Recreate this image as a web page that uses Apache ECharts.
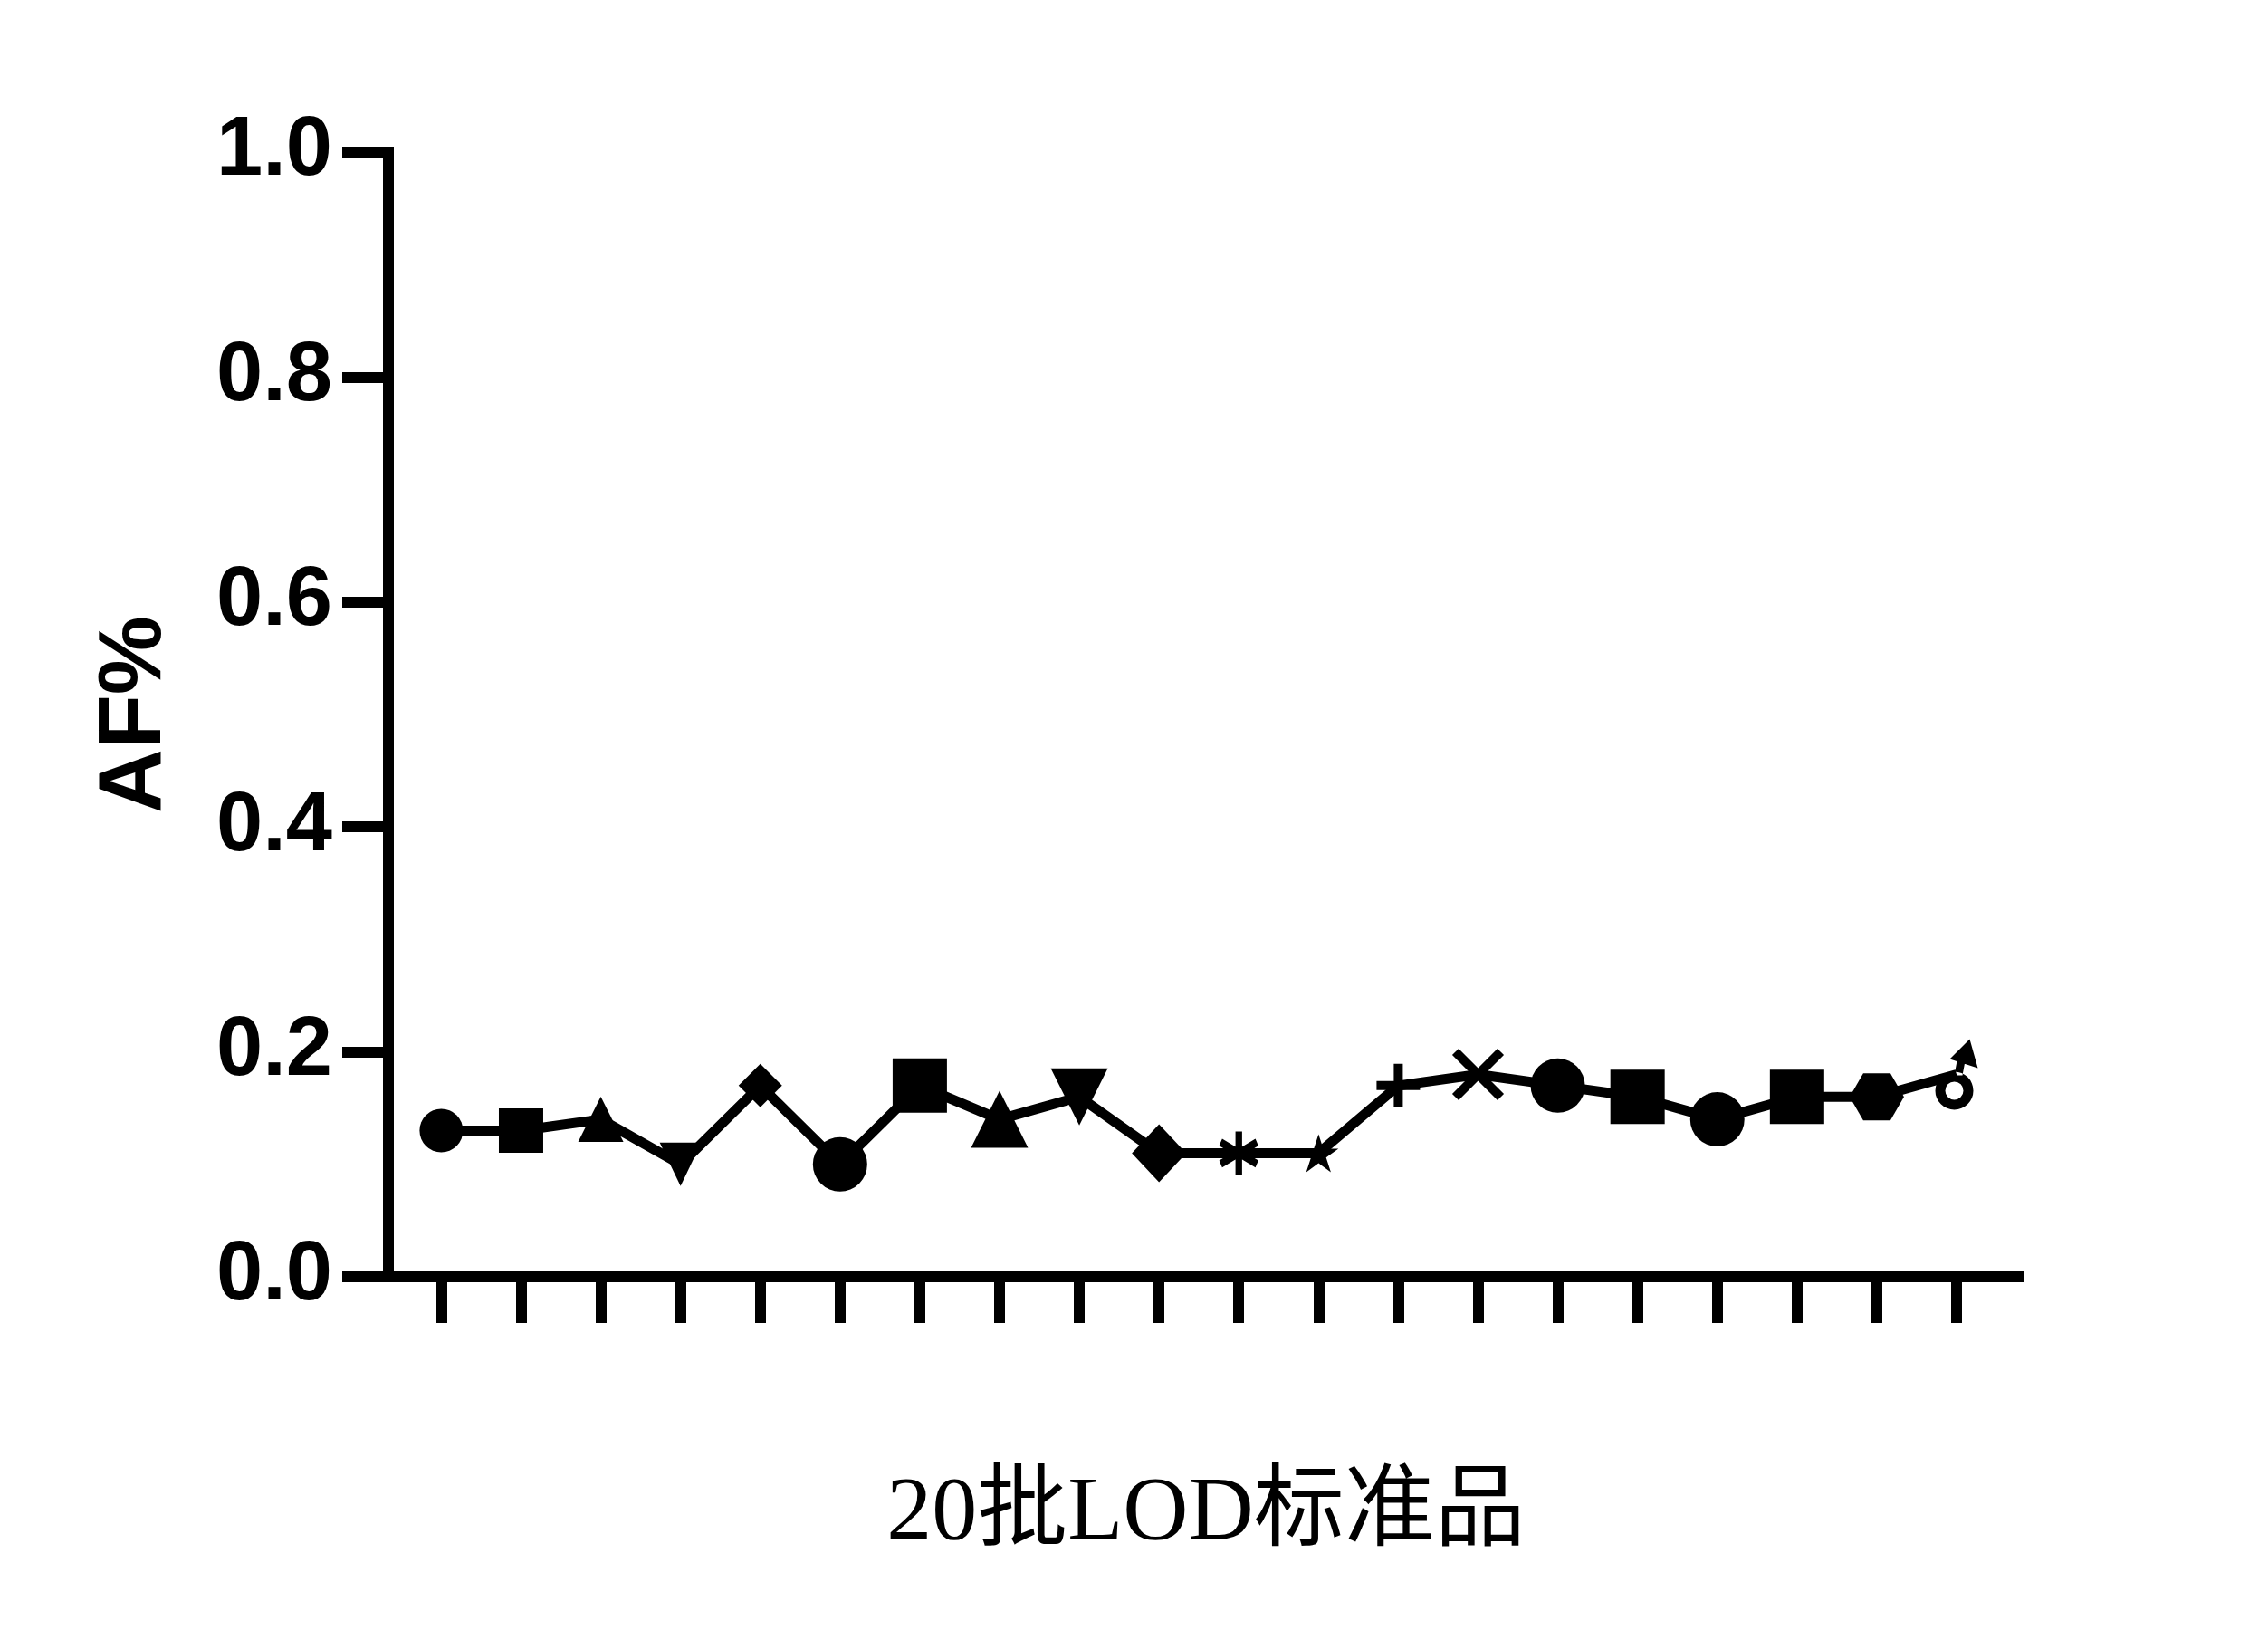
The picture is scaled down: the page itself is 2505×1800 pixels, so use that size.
<!DOCTYPE html>
<html>
<head>
<meta charset="utf-8">
<script src="https://cdn.jsdelivr.net/npm/echarts@6/dist/echarts.min.js"></script>
<style>html,body{margin:0;padding:0;background:#fff;}#c{width:2505px;height:1800px;}</style>
</head>
<body>
<div id="c"></div>
<script>
// ---- data ----
const batches = [1,2,3,4,5,6,7,8,9,10,11,12,13,14,15,16,17,18,19,20];
const afValues = [0.13,0.13,0.14,0.10,0.17,0.10,0.17,0.14,0.16,0.11,0.11,0.11,0.17,0.18,0.17,0.16,0.14,0.16,0.16,0.18];
const yTicks = [0,0.2,0.4,0.6,0.8,1.0];
const xName = '20批LOD标准品';
const yName = 'AF%';

// ---- marker styles (shape per batch) ----
const DOWN_TRI = 'path://M0,0 L2,0 L1,2 Z';
const ASTER = 'path://M0.5,0 L0.5,1 M0,0.25 L1,0.75 M0,0.75 L1,0.25';
const STAR = 'path://M50,0 L61.17,34.63 L97.55,34.55 L68.07,55.87 L79.39,90.45 L50,69 L20.61,90.45 L31.93,55.87 L2.45,34.55 L38.83,34.63 Z';
const PLUS = 'path://M0,1 L2,1 M1,0 L1,2';
const CROSS = 'path://M0,0 L2,2 M0,2 L2,0';
const HEX = 'path://M1,0 L3,0 L4,2 L3,4 L1,4 L0,2 Z';
const MALE = 'path://M0,57 A21,21 0 1,1 42,57 A21,21 0 1,1 0,57 Z M11,57 A10,10 0 1,0 31,57 A10,10 0 1,0 11,57 Z M21,40 L30,40 L33,24 L24,24 Z M38,0 L16,22 L47,32 Z';
const markerStyles = [
  {s:'circle', z:48}, {s:'rect', z:49}, {s:'triangle', z:50}, {s:DOWN_TRI, z:[46,48]}, {s:'diamond', z:48},
  {s:'circle', z:60}, {s:'rect', z:60}, {s:'triangle', z:63}, {s:DOWN_TRI, z:63}, {s:'diamond', z:[60,64]},
  {s:ASTER, z:[40,48], stroke:8}, {s:STAR, z:[44,42]}, {s:PLUS, z:48, stroke:10}, {s:CROSS, z:50, stroke:10}, {s:'circle', z:60},
  {s:'rect', z:60}, {s:'circle', z:60}, {s:'rect', z:60}, {s:HEX, z:[60,52]}, {s:MALE, z:[47,78]}
];

const seriesData = batches.map((b, i) => {
  const m = markerStyles[i];
  const item = {value: [b, afValues[i]], symbol: m.s, symbolSize: m.z};
  if (m.stroke) {
    item.itemStyle = {color: '#000', borderColor: '#000', borderWidth: m.stroke};
  }
  return item;
});

const chart = echarts.init(document.getElementById('c'), null, {renderer: 'canvas'});
chart.setOption({
  animation: false,
  backgroundColor: '#fff',
  grid: {left: 429, right: 270, top: 168, bottom: 390},
  xAxis: {
    type: 'value',
    min: 0.337,
    max: 20.84,
    name: xName,
    nameLocation: 'middle',
    nameGap: 213,
    nameTextStyle: {fontSize: 100, color: '#000', fontFamily: '"Liberation Serif", "Noto Sans CJK SC", serif'},
    axisLine: {show: true, lineStyle: {color: '#000', width: 12, cap: 'butt'}},
    axisTick: {show: true, length: 51, lineStyle: {color: '#000', width: 12}, customValues: batches},
    axisLabel: {show: false},
    splitLine: {show: false}
  },
  yAxis: {
    type: 'value',
    min: 0,
    max: 1,
    interval: 0.2,
    name: yName,
    nameLocation: 'middle',
    nameGap: 230,
    nameTextStyle: {fontSize: 98, fontWeight: 'bold', color: '#000', fontFamily: '"Liberation Sans", Arial, sans-serif'},
    axisLine: {show: true, lineStyle: {color: '#000', width: 12, cap: 'square'}},
    axisTick: {show: true, length: 51, lineStyle: {color: '#000', width: 12}},
    axisLabel: {
      show: true, margin: 62, fontSize: 92, fontWeight: 'bold', color: '#000',
      fontFamily: '"Liberation Sans", Arial, sans-serif',
      customValues: yTicks,
      formatter: v => v.toFixed(1)
    },
    splitLine: {show: false}
  },
  series: [{
    type: 'line',
    data: seriesData,
    showAllSymbol: true,
    symbolKeepAspect: false,
    lineStyle: {color: '#000', width: 11},
    itemStyle: {color: '#000'},
    emphasis: {disabled: true}
  }]
});
</script>
</body>
</html>
